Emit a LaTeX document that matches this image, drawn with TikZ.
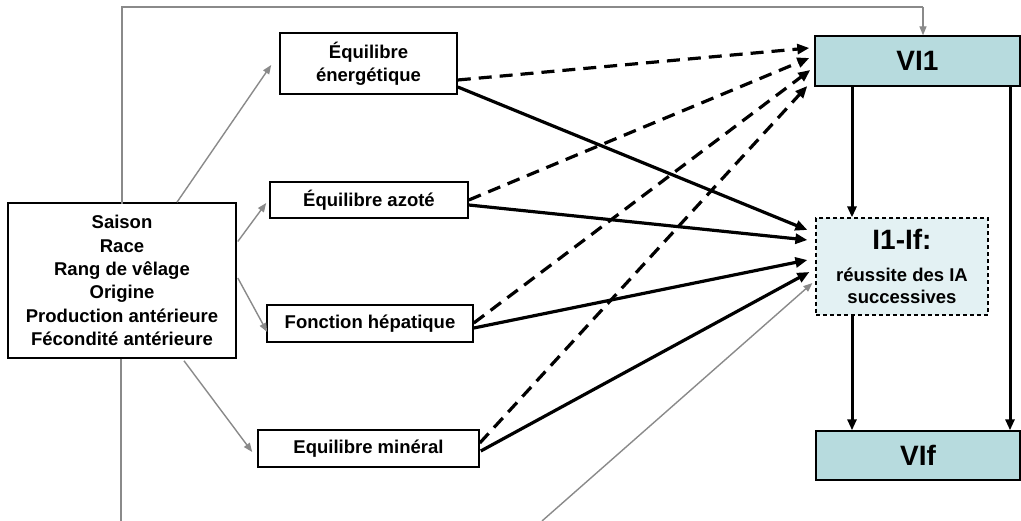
\documentclass[tikz,border=0pt]{standalone}
\usepackage{fontspec}
\setmainfont{Liberation Sans}
\usetikzlibrary{arrows.meta,calc}
\definecolor{viblue}{HTML}{B7DBDE}
\definecolor{iiblue}{HTML}{E3F1F3}
\definecolor{grline}{HTML}{8A8A8A}
\begin{document}
\begin{tikzpicture}[x=1pt,y=-1pt,
  box/.style={draw=black,line width=1.6pt,fill=white,inner sep=0pt,align=center,font=\fontsize{18.5}{23.3}\selectfont\bfseries},
  vbox/.style={draw=black,line width=1.4pt,fill=viblue,inner sep=0pt,align=center,font=\fontsize{28}{32}\selectfont\bfseries},
  ibox/.style={draw=black,line width=1.2pt,dash pattern=on 4pt off 3pt,fill=iiblue,inner sep=0pt,align=center,font=\fontsize{18.5}{22}\selectfont\bfseries},
  garr/.style={draw=grline,line width=1.4pt,-{Triangle[length=9pt,width=7pt]}},
  gline/.style={draw=grline,line width=1.4pt},
  barr/.style={draw=black,line width=3.2pt,-{Triangle[length=12pt,width=10pt]}},
  darr/.style={barr,dash pattern=on 13pt off 8pt},
  varr/.style={draw=black,line width=3pt,-{Triangle[length=11pt,width=9pt]}}]
\useasboundingbox (0,0) rectangle (1021,521);
\fill[white] (0,0) rectangle (1021,521);

\node[box,minimum width=228pt,minimum height=155pt] (src) at (122,280.5)
  {Saison\\Race\\Rang de vêlage\\Origine\\Production antérieure\\Fécondité antérieure};
\node[box,minimum width=177pt,minimum height=61pt] (ener) at (368.5,63.5) {Équilibre\\énergétique};
\node[box,minimum width=198pt,minimum height=36pt] (azot) at (369,200) {Équilibre azoté};
\node[box,minimum width=206pt,minimum height=37pt] (hepa) at (370,323.5) {Fonction hépatique};
\node[box,minimum width=221pt,minimum height=37pt] (mine) at (368.5,448.5) {Equilibre minéral};
\node[vbox,minimum width=205pt,minimum height=50pt] (vi1) at (917.5,61) {VI1};
\node[ibox,minimum width=172pt,minimum height=97pt] (iif) at (902,266.5)
  {{\fontsize{28}{30}\selectfont I1-If:}\\[10pt]réussite des IA\\successives};
\node[vbox,minimum width=204pt,minimum height=49pt] (vif) at (918,455.5) {VIf};

% gray connectors
\coordinate (topL) at (122,7);
\coordinate (topR) at (923,7);
\coordinate (botL) at (121,521);
\coordinate (botM) at (542,521);
\draw[gline] ($(src.north)+(0,2)$) -- (topL) -- (topR);
\draw[garr] (topR) -- (vi1.north -| topR);
\draw[gline] ($(src.south)+(-1,0)$) -- (botL);
\draw[garr] (botM) -- ($(iif.west)+(-3,16.5)$);
\draw[garr] ($(src.north)+(55,0)$) -- ($(ener.west)+(-8,1.5)$);
\draw[garr] ($(src.east)+(1,-39)$) -- ($(azot.west)+(-3,3)$);
\draw[garr] ($(src.east)+(1,-2.5)$) -- ($(hepa.west)+(1,8.5)$);
\draw[garr] ($(src.south)+(62,2)$) -- ($(mine.west)+(-5,3.5)$);

% dashed to VI1
\draw[darr] ($(ener.east)+(0,16.5)$) -- ($(vi1.west)+(-5,-13)$);
\draw[darr] ($(azot.east)+(0,0)$) -- ($(vi1.west)+(-5,-3)$);
\draw[darr] ($(hepa.east)+(0,-0.5)$) -- ($(vi1.west)+(-4,9)$);
\draw[darr] ($(mine.east)+(0,-5.5)$) -- ($(vi1.west)+(-7,25)$);

% solid to I1-If
\draw[barr] ($(ener.east)+(0,23.5)$) -- ($(iif.west)+(-8,-36.5)$);
\draw[barr] ($(azot.east)+(0,5)$) -- ($(iif.west)+(-8,-26.5)$);
\draw[barr] ($(hepa.east)+(0,4.5)$) -- ($(iif.west)+(-8,-6.5)$);
\draw[barr] ($(mine.east)+(1,2.5)$) -- ($(iif.west)+(-6,5.5)$);

% vertical
\draw[varr] ($(vi1.south)+(-65.5,0)$) -- ($(iif.north)+(-50,0)$);
\draw[varr] ($(iif.south)+(-50,0)$) -- ($(vif.north)+(-66,0)$);
\draw[varr] ($(vi1.south)+(92.5,0)$) -- ($(vif.north)+(92,0)$);
\end{tikzpicture}
\end{document}
